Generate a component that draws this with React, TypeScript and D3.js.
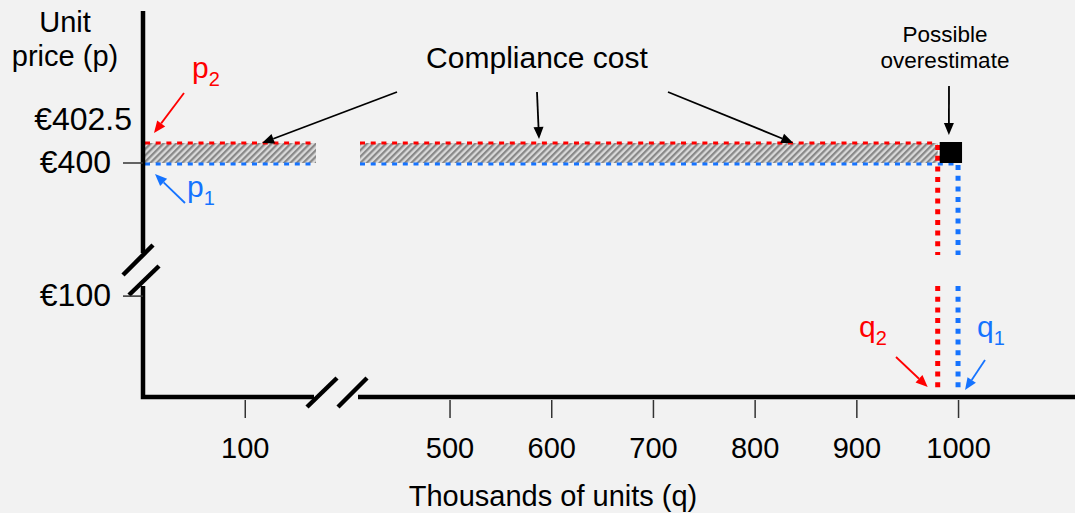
import React, { useEffect, useRef } from 'react';
import * as d3 from 'd3';

const W = 1075;
const H = 513;

// quantities in thousands of units, prices in euro
const X_TICKS = [100, 500, 600, 700, 800, 900, 1000];
const Y_TICKS = [100, 400];
const Y_TICK_LABELS = ['€100', '€400'];
const P1 = 400;
const P2 = 402.5;
const Q1 = 1000;
const Q2 = 980;
const X_BREAK = [170, 410];
const Y_BREAK = [112, 388.5];

const RED = '#ff0000';
const BLUE = '#1573ff';
const FONT = 'Liberation Sans, Arial, sans-serif';

const App: React.FC = () => {
  const svgRef = useRef<SVGSVGElement>(null);

  useEffect(() => {
    if (!svgRef.current) return;
    const svg = d3.select(svgRef.current);
    svg.selectAll('*').remove();

    // broken scales: two linear pieces each
    const x = d3.scaleLinear().domain([0, X_BREAK[0], X_BREAK[1], 1115]).range([143, 316, 358, 1075]);
    const y = d3.scaleLinear().domain([0, Y_BREAK[0], Y_BREAK[1], 419]).range([397, 284, 255, 11]);

    svg.append('rect').attr('width', W).attr('height', H).attr('fill', '#f2f2f2');

    const defs = svg.append('defs');
    const pat = defs.append('pattern')
      .attr('id', 'hatch')
      .attr('patternUnits', 'userSpaceOnUse')
      .attr('width', 4.5)
      .attr('height', 4.5)
      .attr('patternTransform', 'rotate(45)');
    pat.append('rect').attr('width', 4.5).attr('height', 4.5).attr('fill', '#dadada');
    pat.append('rect').attr('width', 2.2).attr('height', 4.5).attr('fill', '#888888');

    // hatched compliance cost band, split at the x break
    const hatchSegs: [number, number][] = [[0, X_BREAK[0]], [X_BREAK[1], Q2]];
    svg.append('g').selectAll('rect')
      .data(hatchSegs)
      .enter().append('rect')
      .attr('x', d => x(d[0]) + 2)
      .attr('y', y(P2))
      .attr('width', d => x(d[1]) - x(d[0]) - 2)
      .attr('height', y(P1) - y(P2))
      .attr('fill', 'url(#hatch)');

    // dashed price lines
    const priceLines = [
      { p: P2, q: Q2, color: RED, dy: 0 },
      { p: P1, q: Q1, color: BLUE, dy: 1 },
    ];
    priceLines.forEach(l => {
      const segs: [number, number][] = [[0, X_BREAK[0]], [X_BREAK[1], l.q]];
      svg.append('g').selectAll('line')
        .data(segs)
        .enter().append('line')
        .attr('x1', d => x(d[0]) + 2)
        .attr('x2', d => x(d[1]))
        .attr('y1', y(l.p) + l.dy)
        .attr('y2', y(l.p) + l.dy)
        .attr('stroke', l.color)
        .attr('stroke-width', 3)
        .attr('stroke-dasharray', '5,5.7');
    });

    // dotted quantity lines, split at the y break
    const qtyLines = [
      { q: Q2, p: P2, color: RED },
      { q: Q1, p: P1, color: BLUE },
    ];
    qtyLines.forEach(l => {
      const segs: [number, number][] = [[l.p, Y_BREAK[1]], [Y_BREAK[0], 5]];
      svg.append('g').selectAll('line')
        .data(segs)
        .enter().append('line')
        .attr('x1', x(l.q))
        .attr('x2', x(l.q))
        .attr('y1', d => y(d[0]) + 2)
        .attr('y2', d => y(d[1]))
        .attr('stroke', l.color)
        .attr('stroke-width', 5)
        .attr('stroke-dasharray', '5,5.7');
    });

    // possible overestimate square
    svg.append('rect')
      .attr('x', x(Q2) + 2)
      .attr('y', y(P2) - 1)
      .attr('width', x(Q1) - x(Q2) + 2)
      .attr('height', y(P1) - y(P2) + 1)
      .attr('fill', '#000');

    // axes (broken)
    const axisG = svg.append('g').attr('stroke', '#000').attr('stroke-width', 4.5).attr('fill', 'none');
    axisG.append('path').attr('d', `M${x(0)},${y(419)}V${y(Y_BREAK[1]) - 2}`);
    axisG.append('path').attr('d', `M${x(0)},${y(Y_BREAK[0]) + 2}V${y(0)}H${x(X_BREAK[0]) - 2}`);
    axisG.append('path').attr('d', `M${x(X_BREAK[1])},${y(0)}H${W}`);

    // break marks
    const slashes = [
      [307, 407, 337, 378], [338, 407, 367, 378],
      [123, 275, 153, 245], [129, 295, 159, 266],
    ];
    svg.append('g').selectAll('line')
      .data(slashes)
      .enter().append('line')
      .attr('x1', d => d[0]).attr('y1', d => d[1])
      .attr('x2', d => d[2]).attr('y2', d => d[3])
      .attr('stroke', '#000')
      .attr('stroke-width', 4.5);

    // x axis ticks and labels
    const xAxis = d3.axisBottom(x).tickValues(X_TICKS).tickSize(18).tickPadding(19).tickFormat(d3.format('d'));
    const xg = svg.append('g').attr('transform', `translate(0,${y(0) + 3})`).call(xAxis);
    xg.select('.domain').remove();
    xg.selectAll('line').attr('stroke', '#333').attr('stroke-width', 1.5);
    xg.selectAll('text').attr('font-size', 29).attr('font-family', FONT).attr('fill', '#000');

    // y axis ticks and labels
    svg.append('g').selectAll('line')
      .data(Y_TICKS)
      .enter().append('line')
      .attr('x1', x(0) - 20).attr('x2', x(0))
      .attr('y1', d => y(d)).attr('y2', d => y(d))
      .attr('stroke', '#333').attr('stroke-width', 1.5);
    svg.append('g').selectAll('text')
      .data(Y_TICKS)
      .enter().append('text')
      .attr('x', 111)
      .attr('y', d => y(d) + 10)
      .attr('text-anchor', 'end')
      .attr('font-size', 32)
      .attr('font-family', FONT)
      .text((d, i) => Y_TICK_LABELS[i]);
    svg.append('text')
      .attr('x', 132).attr('y', y(P2) - 13)
      .attr('text-anchor', 'end').attr('font-size', 32).attr('font-family', FONT)
      .text('€402.5');

    const label = (tx: number, ty: number, txt: string, size: number, anchor = 'middle') =>
      svg.append('text').attr('x', tx).attr('y', ty).attr('text-anchor', anchor)
        .attr('font-size', size).attr('font-family', FONT).attr('fill', '#000').text(txt);

    label(65, 32, 'Unit', 29);
    label(65, 66, 'price (p)', 29);
    label(553, 506, 'Thousands of units (q)', 29);
    label(537, 68, 'Compliance cost', 30);
    label(945, 42, 'Possible', 22.5);
    label(945, 68, 'overestimate', 22.5);

    // subscripted symbols
    const sym = (tx: number, ty: number, base: string, sub: string, color: string) => {
      const t = svg.append('text').attr('x', tx).attr('y', ty).attr('fill', color).attr('font-family', FONT);
      t.append('tspan').attr('font-size', 30).text(base);
      t.append('tspan').attr('font-size', 20).attr('dy', 8).text(sub);
    };
    sym(192, 78, 'p', '2', RED);
    sym(187, 197, 'p', '1', BLUE);
    sym(859, 337, 'q', '2', RED);
    sym(977, 337, 'q', '1', BLUE);

    // arrows
    const arrow = (x1: number, y1: number, x2: number, y2: number, color: string, w = 1.8) => {
      const a = Math.atan2(y2 - y1, x2 - x1);
      const len = 12;
      const half = 5;
      const bx = x2 - len * Math.cos(a);
      const by = y2 - len * Math.sin(a);
      svg.append('line')
        .attr('x1', x1).attr('y1', y1).attr('x2', bx).attr('y2', by)
        .attr('stroke', color).attr('stroke-width', w);
      svg.append('polygon')
        .attr('points', [
          [x2, y2],
          [bx + half * Math.sin(a), by - half * Math.cos(a)],
          [bx - half * Math.sin(a), by + half * Math.cos(a)],
        ].map(p => p.join(',')).join(' '))
        .attr('fill', color);
    };
    arrow(397, 92, x(117), y(P2), '#000');
    arrow(537, 92, x(588), y(P2) - 4, '#000');
    arrow(668, 92, x(838), y(P2), '#000');
    arrow(949, 86, (x(Q2) + x(Q1)) / 2 + 1, y(P2) - 8, '#000');
    arrow(184, 93, x(0) + 11, y(P2) - 10, RED);
    arrow(185, 203, x(0) + 12, y(P1) + 11, BLUE);
    arrow(896, 357, x(Q2) - 10, y(0) - 10, RED);
    arrow(985, 360, x(Q1) + 7, y(0) - 7, BLUE);
  }, []);

  return (
    <svg
      ref={svgRef}
      width={W}
      height={H}
      style={{ position: 'absolute', left: 0, top: 0, display: 'block' }}
    />
  );
};

export default App;
